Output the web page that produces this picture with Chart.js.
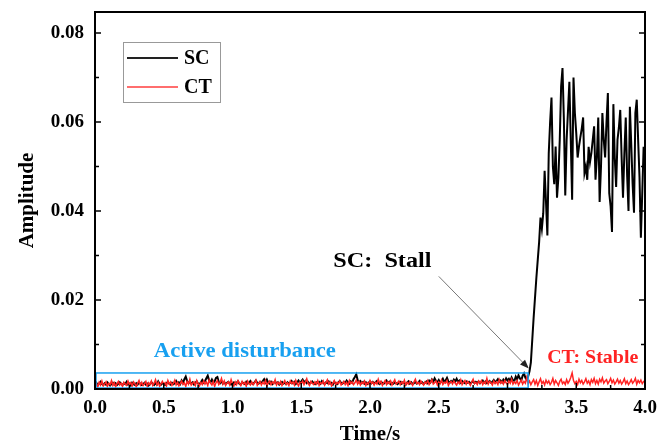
<!DOCTYPE html>
<html>
<head>
<meta charset="utf-8">
<script src="https://cdn.jsdelivr.net/npm/chart.js@4.4.1/dist/chart.umd.min.js"></script>
<style>
  html, body { margin: 0; padding: 0; background: #fff; }
</style>
</head>
<body>
<canvas id="c" width="657" height="447"></canvas>
<script>
// sampling step of both signals (s)
const dt = 0.01;

const seriesNames = ['SC', 'CT'];
const xTicks = ['0.0', '0.5', '1.0', '1.5', '2.0', '2.5', '3.0', '3.5', '4.0'];
const yTicks = ['0.00', '0.02', '0.04', '0.06', '0.08'];

// SC amplitude, one value every 0.01 s from 0.00 to 4.00 s
const scValues = [
  .0010,.0014,.0008,.0012,.0016,.0011,.0009,.0013,.0010,.0015,.0012,.0008,.0011,.0014,.0010,.0013,.0009,.0012,.0015,.0011,
  .0009,.0013,.0011,.0016,.0010,.0012,.0008,.0014,.0011,.0009,.0013,.0010,.0015,.0012,.0009,.0011,.0014,.0010,.0012,.0008,
  .0011,.0015,.0012,.0009,.0013,.0010,.0017,.0012,.0010,.0014,.0011,.0009,.0013,.0016,.0012,.0010,.0014,.0011,.0013,.0018,
  .0012,.0015,.0011,.0019,.0014,.0022,.0028,.0018,.0013,.0016,.0012,.0015,.0010,.0014,.0017,.0012,.0011,.0015,.0020,.0014,
  .0018,.0024,.0030,.0019,.0015,.0021,.0014,.0017,.0025,.0027,.0016,.0013,.0018,.0012,.0015,.0011,.0014,.0016,.0012,.0010,
  .0013,.0015,.0011,.0014,.0017,.0012,.0010,.0015,.0013,.0011,.0016,.0012,.0014,.0018,.0013,.0011,.0015,.0019,.0014,.0012,
  .0016,.0013,.0018,.0022,.0015,.0021,.0014,.0012,.0016,.0011,.0014,.0017,.0012,.0015,.0010,.0013,.0016,.0012,.0014,.0011,
  .0015,.0012,.0014,.0018,.0013,.0016,.0011,.0015,.0019,.0014,.0017,.0021,.0015,.0018,.0013,.0016,.0012,.0014,.0017,.0013,
  .0011,.0015,.0013,.0016,.0012,.0018,.0014,.0011,.0015,.0013,.0017,.0012,.0014,.0010,.0016,.0013,.0011,.0015,.0018,.0014,
  .0012,.0016,.0013,.0019,.0015,.0012,.0017,.0014,.0022,.0027,.0033,.0020,.0015,.0018,.0013,.0016,.0012,.0015,.0011,.0014,
  .0017,.0013,.0016,.0012,.0015,.0018,.0013,.0011,.0016,.0014,.0012,.0015,.0019,.0013,.0016,.0011,.0014,.0012,.0015,.0013,
  .0011,.0014,.0016,.0012,.0015,.0013,.0010,.0014,.0017,.0012,.0015,.0011,.0013,.0016,.0012,.0014,.0018,.0013,.0015,.0011,
  .0014,.0017,.0013,.0019,.0015,.0021,.0016,.0024,.0018,.0015,.0020,.0014,.0017,.0023,.0016,.0019,.0025,.0017,.0014,.0018,
  .0015,.0021,.0017,.0023,.0016,.0019,.0014,.0018,.0015,.0013,.0017,.0014,.0016,.0012,.0015,.0018,.0013,.0016,.0014,.0017,
  .0013,.0016,.0019,.0014,.0017,.0013,.0015,.0018,.0014,.0016,.0020,.0015,.0018,.0022,.0016,.0019,.0015,.0021,.0017,.0024,
  .0019,.0023,.0017,.0026,.0020,.0018,.0028,.0022,.0031,.0024,.0019,.0030,.0035,.0025,.0021,.0028,.0040,.0060,.0110,.0160,
  .0205,.0250,.0290,.0330,.0385,.0360,.0395,.0490,.0420,.0345,.0530,.0600,.0655,.0500,.0460,.0545,.0430,.0475,.0560,.0680,
  .0721,.0605,.0435,.0560,.0625,.0690,.0560,.0425,.0700,.0620,.0575,.0520,.0545,.0566,.0585,.0610,.0485,.0500,.0470,.0544,
  .0510,.0530,.0560,.0590,.0470,.0520,.0610,.0420,.0500,.0620,.0560,.0520,.0600,.0665,.0440,.0410,.0353,.0640,.0520,.0454,
  .0560,.0587,.0627,.0520,.0430,.0530,.0610,.0480,.0400,.0634,.0550,.0460,.0396,.0620,.0650,.0560,.0476,.0340,.0440,.0544,
  .0508
];

// CT amplitude, same time base
const ctValues = [
  .0008,.0012,.0005,.0015,.0009,.0018,.0007,.0011,.0016,.0006,.0013,.0010,.0019,.0008,.0014,.0005,.0012,.0017,.0009,.0013,
  .0006,.0015,.0011,.0008,.0018,.0010,.0014,.0007,.0016,.0012,.0005,.0013,.0019,.0009,.0015,.0008,.0012,.0017,.0006,.0014,
  .0010,.0018,.0008,.0013,.0021,.0009,.0015,.0006,.0012,.0017,.0010,.0014,.0007,.0019,.0011,.0016,.0008,.0013,.0020,.0009,
  .0015,.0007,.0012,.0018,.0010,.0014,.0006,.0017,.0011,.0022,.0009,.0013,.0016,.0008,.0019,.0012,.0007,.0015,.0010,.0018,
  .0011,.0016,.0008,.0020,.0013,.0009,.0017,.0006,.0014,.0019,.0010,.0015,.0024,.0011,.0018,.0008,.0013,.0016,.0009,.0021,
  .0012,.0007,.0016,.0010,.0019,.0013,.0008,.0017,.0011,.0015,.0006,.0018,.0012,.0009,.0016,.0010,.0014,.0020,.0008,.0013,
  .0017,.0009,.0015,.0011,.0019,.0007,.0014,.0018,.0010,.0016,.0012,.0021,.0009,.0015,.0011,.0017,.0008,.0013,.0019,.0010,
  .0014,.0008,.0018,.0012,.0016,.0009,.0020,.0013,.0007,.0015,.0011,.0018,.0010,.0016,.0023,.0012,.0008,.0017,.0013,.0010,
  .0016,.0011,.0019,.0008,.0014,.0012,.0018,.0009,.0015,.0021,.0011,.0016,.0007,.0013,.0019,.0010,.0015,.0012,.0018,.0009,
  .0013,.0017,.0010,.0015,.0008,.0019,.0012,.0016,.0010,.0014,.0020,.0011,.0017,.0009,.0015,.0012,.0018,.0008,.0014,.0011,
  .0019,.0012,.0016,.0009,.0015,.0011,.0022,.0013,.0017,.0008,.0014,.0019,.0010,.0016,.0012,.0018,.0009,.0015,.0021,.0011,
  .0014,.0018,.0010,.0016,.0012,.0020,.0009,.0015,.0011,.0017,.0013,.0008,.0016,.0022,.0012,.0015,.0010,.0018,.0013,.0009,
  .0016,.0012,.0019,.0010,.0015,.0021,.0011,.0014,.0018,.0009,.0016,.0012,.0020,.0010,.0015,.0013,.0019,.0008,.0014,.0017,
  .0011,.0018,.0013,.0009,.0016,.0012,.0021,.0010,.0015,.0019,.0011,.0017,.0013,.0008,.0016,.0022,.0012,.0015,.0010,.0018,
  .0013,.0019,.0010,.0016,.0012,.0024,.0011,.0017,.0014,.0009,.0018,.0012,.0016,.0010,.0021,.0013,.0017,.0011,.0019,.0014,
  .0010,.0018,.0013,.0022,.0011,.0016,.0012,.0019,.0009,.0015,.0020,.0011,.0017,.0013,.0026,.0012,.0018,.0010,.0016,.0021,
  .0011,.0019,.0008,.0016,.0023,.0012,.0017,.0009,.0020,.0013,.0018,.0010,.0015,.0024,.0011,.0019,.0014,.0008,.0017,.0022,
  .0012,.0016,.0010,.0021,.0013,.0018,.0026,.0036,.0019,.0012,.0017,.0010,.0022,.0014,.0019,.0011,.0016,.0023,.0013,.0018,
  .0010,.0021,.0015,.0024,.0012,.0019,.0011,.0022,.0016,.0025,.0013,.0018,.0021,.0012,.0017,.0024,.0014,.0020,.0011,.0016,
  .0022,.0013,.0019,.0011,.0016,.0023,.0012,.0018,.0010,.0015,.0021,.0013,.0017,.0024,.0011,.0019,.0014,.0020,.0012,.0017,
  .0015
];

const toPoints = vals => vals.map((v, i) => ({ x: i * dt, y: v }));

const serif = 'Liberation Serif, Times New Roman, serif';
const blue = 'rgb(24,160,240)';
const red = 'rgb(255,35,35)';

// frame, inward ticks, annotations and the boxed legend
const decor = {
  id: 'decor',
  afterDatasetsDraw(chart) {
    const { ctx, chartArea: a, scales: { x, y } } = chart;
    ctx.save();

    // active disturbance box
    ctx.strokeStyle = blue;
    ctx.lineWidth = 1.5;
    const bx0 = x.getPixelForValue(0), bx1 = x.getPixelForValue(3.15);
    const by0 = y.getPixelForValue(0.0036), by1 = y.getPixelForValue(0);
    ctx.strokeRect(bx0 + 1, by0, bx1 - bx0 - 1, by1 - by0 - 1);

    // frame
    ctx.strokeStyle = '#000';
    ctx.lineWidth = 2;
    ctx.strokeRect(a.left, a.top, a.right - a.left, a.bottom - a.top);

    // ticks pointing inward
    ctx.lineWidth = 1.5;
    ctx.beginPath();
    for (let k = 0; k <= 8; k++) {
      const py = y.getPixelForValue(k * 0.01);
      const len = k % 2 === 0 ? 6 : 4;
      ctx.moveTo(a.left, py); ctx.lineTo(a.left + len, py);
      ctx.moveTo(a.right, py); ctx.lineTo(a.right - len, py);
    }
    for (let k = 0; k <= 16; k++) {
      const px = x.getPixelForValue(k * 0.25);
      const len = k % 2 === 0 ? 6 : 4;
      ctx.moveTo(px, a.bottom); ctx.lineTo(px, a.bottom - len);
    }
    ctx.stroke();

    // texts
    const label = (txt, vx, vy, color, size, sx) => {
      ctx.save();
      ctx.translate(x.getPixelForValue(vx), y.getPixelForValue(vy));
      ctx.scale(sx, 1);
      ctx.font = 'bold ' + size + 'px ' + serif;
      ctx.fillStyle = color;
      ctx.textAlign = 'center';
      ctx.textBaseline = 'middle';
      ctx.fillText(txt, 0, 0);
      ctx.restore();
    };
    label('Active disturbance', 1.09, 0.0083, blue, 21, 1.08);
    label('SC:  Stall', 2.09, 0.0287, '#000', 22, 1.1);
    label('CT: Stable', 3.62, 0.0070, red, 19, 1.05);

    // arrow to stall onset
    const ax0 = x.getPixelForValue(2.5), ay0 = y.getPixelForValue(0.0253);
    const ax1 = x.getPixelForValue(3.155), ay1 = y.getPixelForValue(0.0046);
    const ang = Math.atan2(ay1 - ay0, ax1 - ax0);
    ctx.strokeStyle = '#777';
    ctx.lineWidth = 1;
    ctx.beginPath();
    ctx.moveTo(ax0, ay0);
    ctx.lineTo(ax1 - 6 * Math.cos(ang), ay1 - 6 * Math.sin(ang));
    ctx.stroke();
    ctx.fillStyle = '#222';
    ctx.beginPath();
    ctx.moveTo(ax1, ay1);
    ctx.lineTo(ax1 - 9 * Math.cos(ang) + 3.5 * Math.sin(ang), ay1 - 9 * Math.sin(ang) - 3.5 * Math.cos(ang));
    ctx.lineTo(ax1 - 9 * Math.cos(ang) - 3.5 * Math.sin(ang), ay1 - 9 * Math.sin(ang) + 3.5 * Math.cos(ang));
    ctx.closePath();
    ctx.fill();

    // legend
    const lx = a.left + 28, ly = a.top + 30;
    ctx.strokeStyle = '#999';
    ctx.lineWidth = 1;
    ctx.strokeRect(lx + 0.5, ly + 0.5, 97, 60);
    const colors = ['#222', 'rgb(255,110,110)'];
    seriesNames.forEach((name, i) => {
      const yy = ly + 16 + i * 29;
      ctx.strokeStyle = colors[i];
      ctx.lineWidth = 2;
      ctx.beginPath();
      ctx.moveTo(lx + 4, yy); ctx.lineTo(lx + 55, yy);
      ctx.stroke();
      ctx.fillStyle = '#000';
      ctx.font = 'bold 20px ' + serif;
      ctx.textAlign = 'left';
      ctx.textBaseline = 'middle';
      ctx.fillText(name, lx + 61, yy + 1);
    });

    ctx.restore();
  }
};

const tickFont = { family: serif, weight: 'bold', size: 19 };
const titleFont = { family: serif, weight: 'bold', size: 21 };

new Chart(document.getElementById('c'), {
  type: 'line',
  data: {
    datasets: [
      { label: seriesNames[0], data: toPoints(scValues), borderColor: '#000', borderWidth: 2, order: 2 },
      { label: seriesNames[1], data: toPoints(ctValues), borderColor: red, borderWidth: 1.5, order: 1 }
    ]
  },
  options: {
    responsive: false,
    animation: false,
    devicePixelRatio: 1,
    layout: { padding: { top: 12, right: 12, left: 0, bottom: 0 } },
    elements: { point: { radius: 0 }, line: { tension: 0 } },
    plugins: { legend: { display: false }, tooltip: { enabled: false } },
    scales: {
      x: {
        type: 'linear', min: 0, max: 4,
        grid: { display: false, drawTicks: false },
        border: { display: false },
        ticks: {
          stepSize: 0.5, padding: 8, maxRotation: 0, autoSkip: false, color: '#000', font: tickFont,
          callback: v => { const s = (+v).toFixed(1); return xTicks.includes(s) ? s : ''; }
        },
        title: { display: true, text: 'Time/s', color: '#000', font: titleFont, padding: { top: 0, bottom: 0 } },
        afterFit: s => { s.height = 58; s.paddingLeft = 0; s.paddingRight = 0; }
      },
      y: {
        type: 'linear', min: 0, max: 0.0847,
        grid: { display: false, drawTicks: false },
        border: { display: false },
        ticks: {
          stepSize: 0.02, includeBounds: false, padding: 11, color: '#000', font: tickFont,
          callback: v => { const s = (+v).toFixed(2); return yTicks.includes(s) ? s : ''; }
        },
        title: { display: true, text: 'Amplitude', color: '#000', font: titleFont, padding: { top: 15, bottom: 0 } },
        afterFit: s => { s.width = 95; s.paddingTop = 0; s.paddingBottom = 0; }
      }
    }
  },
  plugins: [decor]
});
</script>
</body>
</html>
